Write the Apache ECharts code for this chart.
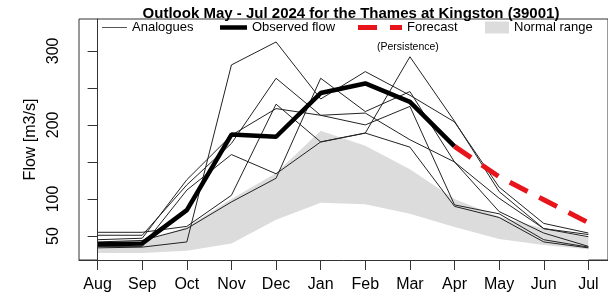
<!DOCTYPE html>
<html>
<head>
<meta charset="utf-8">
<script src="https://cdn.jsdelivr.net/npm/echarts@6/dist/echarts.min.js"></script>
<style>
  html, body { margin: 0; padding: 0; background: #fff; }
  #chart { width: 608px; height: 302px; }
</style>
</head>
<body>
<div id="chart"></div>
<script>
// months from Aug 2023 to Jul 2024
const months = ['Aug', 'Sep', 'Oct', 'Nov', 'Dec', 'Jan', 'Feb', 'Mar', 'Apr', 'May', 'Jun', 'Jul']

// observed flow, Aug..Apr (m3/s)
const observed = [39, 40, 85, 187, 184, 243, 256, 231, 171]
// persistence forecast, Apr..Jul
const forecastStart = 8
const forecast = [171, 130, 99, 68]

// normal range band
const normalLower = [27, 27, 30, 40, 72, 95, 93, 80, 62, 46, 38, 32]
const normalUpper = [38, 42, 62, 100, 135, 192, 172, 140, 100, 76, 60, 48]

// analogue years
const analogue1 = [34, 35, 42, 281, 312, 235, 272, 240, 204, 116, 67, 54]
const analogue2 = [51, 51, 119, 175, 263, 213, 216, 180, 150, 101, 60, 49]
const analogue3 = [55, 55, 63, 105, 228, 177, 189, 292, 205, 110, 60, 52]
const analogue4 = [42, 44, 60, 96, 128, 263, 218, 245, 150, 83, 54, 36]
const analogue5 = [45, 47, 126, 186, 222, 213, 200, 225, 92, 80, 45, 35]
const analogue6 = [36, 36, 112, 160, 134, 177, 189, 170, 90, 75, 42, 34]
const analogues = [analogue1, analogue2, analogue3, analogue4, analogue5, analogue6]

// axis ticks
const yTicks = [50, 100, 150, 200, 250, 300]
const yLabels = [50, 100, 200, 300]

const font = 'Liberation Sans, Arial, sans-serif'
const toXY = (arr, start = 0) => arr.map((v, i) => [i + start, v])

const myChart = echarts.init(document.getElementById('chart'))

let series = []
// normal range: grey down to the axis, then white under the lower bound
series.push({
  name: 'Normal range',
  type: 'line',
  data: toXY(normalUpper),
  symbol: 'none',
  silent: true,
  lineStyle: { width: 0, opacity: 0 },
  areaStyle: { color: '#dcdcdc', opacity: 1, origin: 'start' },
  z: 1
})
series.push({
  name: 'bandBase',
  type: 'line',
  data: toXY(normalLower),
  symbol: 'none',
  silent: true,
  lineStyle: { width: 0, opacity: 0 },
  areaStyle: { color: '#fff', opacity: 1, origin: 'start' },
  z: 1
})
for (let a of analogues) {
  series.push({
    name: 'Analogues',
    type: 'line',
    data: toXY(a),
    symbol: 'none',
    lineStyle: { color: '#222', width: 1 },
    z: 2
  })
}
series.push({
  name: 'Observed flow',
  type: 'line',
  data: toXY(observed),
  symbol: 'none',
  lineStyle: { color: '#000', width: 4.5 },
  z: 3
})
series.push({
  name: 'Forecast',
  type: 'line',
  data: toXY(forecast, forecastStart),
  symbol: 'none',
  lineStyle: { color: '#e8141b', width: 5, type: [20, 13], cap: 'butt' },
  z: 4
})

const legendText = { fontFamily: font, fontSize: 13, color: '#000' }
const legendBase = { top: 21, padding: 0, symbolKeepAspect: false, textStyle: legendText }
const option = {
  animation: false,
  title: {
    text: 'Outlook May - Jul 2024 for the Thames at Kingston (39001)',
    left: 346,
    textAlign: 'center',
    top: 1,
    textStyle: { fontFamily: font, fontSize: 15, fontWeight: 'bold', color: '#000' }
  },
  legend: [
    Object.assign({
      data: [{ name: 'Analogues', icon: 'rect', itemStyle: { color: '#555' } }],
      left: 102, itemWidth: 25, itemHeight: 1
    }, legendBase),
    Object.assign({
      data: [{ name: 'Observed flow', icon: 'rect', itemStyle: { color: '#000' } }],
      left: 220, itemWidth: 27, itemHeight: 4.5
    }, legendBase),
    Object.assign({
      data: [{ name: 'Forecast', icon: 'path://M0,0h19v5h-19zM32,0h12v5h-12z', itemStyle: { color: '#e8141b' } }],
      left: 358, itemWidth: 44, itemHeight: 5
    }, legendBase),
    Object.assign({
      data: [{ name: 'Normal range', icon: 'rect', itemStyle: { color: '#dcdcdc' } }],
      left: 485, itemWidth: 24, itemHeight: 12
    }, legendBase)
  ],
  graphic: [
    {
      type: 'text',
      left: 377, top: 42,
      style: { text: '(Persistence)', font: '10.5px ' + font, fill: '#000' }
    }
  ],
  grid: {
    left: 79, top: 19, width: 534, height: 241,
    show: true, borderColor: '#333', borderWidth: 1
  },
  xAxis: {
    type: 'value',
    min: -0.417,
    max: 11.44,
    z: 5,
    splitLine: { show: false },
    axisLine: { show: true, lineStyle: { color: '#333' } },
    axisTick: { show: true, length: 10, customValues: months.map((m, i) => i), lineStyle: { color: '#333' } },
    axisLabel: {
      customValues: months.map((m, i) => i),
      formatter: (v) => months[Math.round(v)],
      margin: 17,
      fontFamily: font, fontSize: 16, color: '#000'
    }
  },
  yAxis: {
    type: 'value',
    min: 17.6,
    max: 343,
    z: 5,
    name: 'Flow [m3/s]',
    nameLocation: 'middle',
    nameGap: 35,
    nameTextStyle: { fontFamily: font, fontSize: 16, color: '#000' },
    splitLine: { show: false },
    axisLine: { show: true, lineStyle: { color: '#333' } },
    axisTick: { show: true, length: 10, customValues: yTicks, lineStyle: { color: '#333' } },
    axisLabel: {
      customValues: yLabels,
      rotate: 90,
      margin: 17,
      fontFamily: font, fontSize: 16, color: '#000'
    }
  },
  series: series
}
myChart.setOption(option)
</script>
</body>
</html>
